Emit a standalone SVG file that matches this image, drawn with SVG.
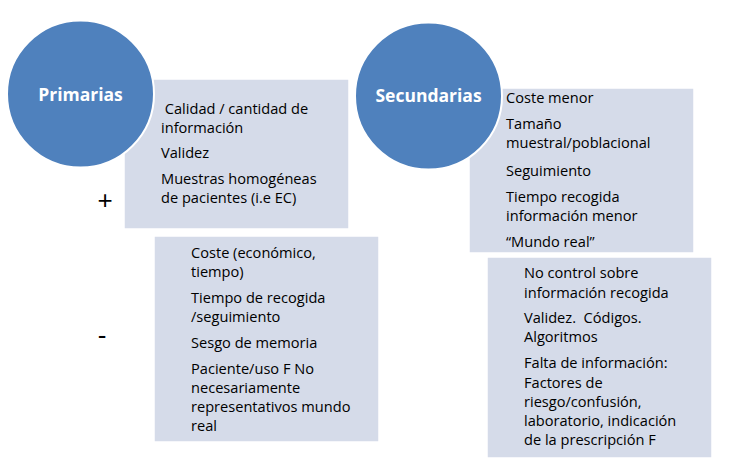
<svg xmlns="http://www.w3.org/2000/svg" width="739" height="468" viewBox="0 0 739 468">
<style>
.box{fill:#D5DBE9;stroke:#ffffff;stroke-width:1.5}
.circ{fill:#4F81BD;stroke:#ffffff;stroke-width:2}
.t{font-family:"Open Sans","Liberation Sans",sans-serif;font-size:14.6px;fill:#000000;white-space:pre}
.h{font-family:"Open Sans","Liberation Sans",sans-serif;font-size:17.5px;font-weight:bold;fill:#ffffff;text-anchor:middle}
.sign{font-family:"Liberation Sans",sans-serif;font-size:26px;fill:#000000;text-anchor:middle}
</style>
<rect width="739" height="468" fill="#ffffff"/>
<g id="box-primarias-plus">
<rect class="box" x="124" y="79" width="225" height="150"/>
<text class="t" x="161" y="114" xml:space="preserve"> Calidad / cantidad de</text>
<text class="t" x="161" y="133">información</text>
<text class="t" x="161" y="158">Validez</text>
<text class="t" x="161" y="184">Muestras homogéneas</text>
<text class="t" x="161" y="203">de pacientes (i.e EC)</text>
</g>
<g id="circle-primarias">
<circle class="circ" cx="80.5" cy="94" r="73.5"/>
<text class="h" x="80.5" y="101">Primarias</text>
</g>
<g id="box-secundarias-plus">
<rect class="box" x="469" y="88" width="225" height="165"/>
<text class="t" x="506" y="103">Coste menor</text>
<text class="t" x="506" y="129">Tamaño</text>
<text class="t" x="506" y="148">muestral/poblacional</text>
<text class="t" x="506" y="176">Seguimiento</text>
<text class="t" x="506" y="202">Tiempo recogida</text>
<text class="t" x="506" y="221">información menor</text>
<text class="t" x="506" y="247">“Mundo real”</text>
</g>
<g id="circle-secundarias">
<circle class="circ" cx="428.5" cy="96" r="73.5"/>
<text class="h" x="428.5" y="102">Secundarias</text>
</g>
<g id="box-primarias-minus">
<rect class="box" x="154" y="236" width="225" height="206"/>
<text class="t" x="191" y="258">Coste (económico,</text>
<text class="t" x="191" y="277">tiempo)</text>
<text class="t" x="191" y="303">Tiempo de recogida</text>
<text class="t" x="191" y="322">/seguimiento</text>
<text class="t" x="191" y="348">Sesgo de memoria</text>
<text class="t" x="191" y="374">Paciente/uso F No</text>
<text class="t" x="191" y="393">necesariamente</text>
<text class="t" x="191" y="412">representativos mundo</text>
<text class="t" x="191" y="431">real</text>
</g>
<g id="box-secundarias-minus">
<rect class="box" x="487" y="257" width="225" height="201"/>
<text class="t" x="524" y="278">No control sobre</text>
<text class="t" x="524" y="298">información recogida</text>
<text class="t" x="524" y="323" xml:space="preserve">Validez.  Códigos.</text>
<text class="t" x="524" y="342">Algoritmos</text>
<text class="t" x="524" y="368">Falta de información:</text>
<text class="t" x="524" y="388">Factores de</text>
<text class="t" x="524" y="407">riesgo/confusión,</text>
<text class="t" x="524" y="426">laboratorio, indicación</text>
<text class="t" x="524" y="445">de la prescripción F</text>
</g>
<g id="signs">
<text class="sign" x="105" y="209">+</text>
<text class="sign" x="102" y="344">-</text>
</g>
<g id="connectors"></g>
</svg>
